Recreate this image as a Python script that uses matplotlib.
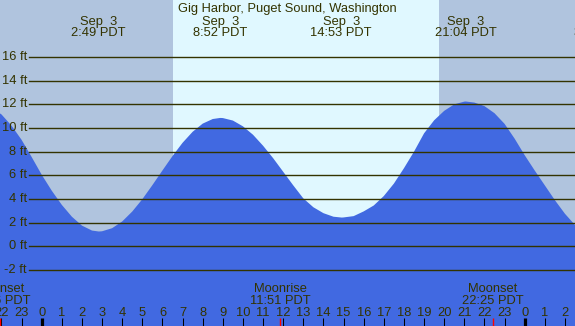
import matplotlib
matplotlib.use("Agg")
import matplotlib.pyplot as plt
import matplotlib.transforms as mtransforms

# tide height (ft), hours from midnight Sep 3
hours = [-3.1, -2.5, -2, -1.5, -1, -0.5, 0, 0.5, 1, 1.5, 2, 2.5, 2.84,
         3, 3.5, 4, 4.5, 5, 5.5, 6, 6.5, 7, 7.5, 8, 8.5, 8.87,
         9, 9.5, 10, 10.5, 11, 11.5, 12, 12.5, 13, 13.5, 14, 14.5, 14.91,
         15, 15.5, 16, 16.5, 17, 17.5, 18, 18.5, 19, 19.5, 20, 20.5, 21, 21.07,
         21.5, 22, 22.5, 23, 23.5, 24, 24.5, 25, 25.5, 26, 26.5, 27]
heights = [11.9, 11.7, 11.15, 10.2, 9.0, 7.55, 6.05, 4.7, 3.5, 2.5, 1.75, 1.33, 1.25,
           1.27, 1.53, 2.1, 2.94, 3.98, 5.17, 6.41, 7.63, 8.75, 9.68, 10.37, 10.76, 10.85,
           10.84, 10.63, 10.14, 9.43, 8.5, 7.45, 6.3, 5.15, 4.05, 3.3, 2.8, 2.5, 2.43,
           2.44, 2.55, 2.95, 3.45, 4.25, 5.3, 6.6, 8.0, 9.55, 10.65, 11.45, 12.0, 12.23, 12.24,
           12.15, 11.85, 11.25, 10.35, 9.1, 7.7, 6.4, 5.15, 3.9, 2.75, 1.8, 1.2]

tide_times = [2.82, 8.87, 14.88, 21.07, 27.8]
tide_dates = ["Sep  3", "Sep  3", "Sep  3", "Sep  3", "Sep  4"]
tide_clock = ["2:49 PDT", "8:52 PDT", "14:53 PDT", "21:04 PDT", "3:48 PDT"]

moon_times = [-2.07, 11.85, 22.417]
moon_names = ["Moonset", "Moonrise", "Moonset"]
moon_clock = ["21:56 PDT", "11:51 PDT", "22:25 PDT"]

sunrise = 6.52
sunset = 19.74
levels = [-2, 0, 2, 4, 6, 8, 10, 12, 14, 16]
hour_ticks = list(range(-2, 27))

W, H = 575, 326
txt = "#333300"
plt.rcParams["font.family"] = ["Liberation Sans", "DejaVu Sans"]
fs = 9.3

fig = plt.figure(figsize=(W / 100, H / 100), dpi=100)
fig.patch.set_facecolor("#b0c4de")
ax = fig.add_axes([0, 0, 1, 1])
ax.axis("off")
ax.set_xlim(-41.7 / 20.125, (W - 41.7) / 20.125)
y_top = (246.3 - 0) / 11.83
y_bot = (246.3 - H) / 11.83
ax.set_ylim(y_bot, y_top)

ax.axvspan(sunrise, sunset, color="#e0f8ff", lw=0, zorder=0)
ax.fill_between(hours, heights, y_bot - 1, color="#4169e1", lw=0, zorder=1)

def py(p):
    # pixel row from top -> axes fraction
    return 1 - p / H

for lv in levels:
    ax.axhline(lv, xmin=29 / W, xmax=1, color=txt, lw=1.0, zorder=2)
    ax.text(27 / W, lv, f"{lv} ft", transform=ax.get_yaxis_transform(),
            ha="right", va="center", fontsize=fs, color=txt, zorder=3)

trans = mtransforms.blended_transform_factory(ax.transData, ax.transAxes)

ax.text(0.5, py(12.3), "Gig Harbor, Puget Sound, Washington", transform=ax.transAxes,
        ha="center", va="baseline", fontsize=fs, color=txt)

for t, d, c in zip(tide_times, tide_dates, tide_clock):
    ax.text(t, py(24.8), d, transform=trans, ha="center", va="baseline", fontsize=fs, color=txt)
    ax.text(t, py(36), c, transform=trans, ha="center", va="baseline", fontsize=fs, color=txt)

for t, n, c in zip(moon_times, moon_names, moon_clock):
    ax.text(t, py(291.7), n, transform=trans, ha="center", va="baseline", fontsize=fs, color=txt)
    ax.text(t, py(304), c, transform=trans, ha="center", va="baseline", fontsize=fs, color=txt)
    ax.vlines(t, 0, py(318), transform=trans, color="red", lw=1.0, zorder=4)

for h in hour_ticks:
    ax.text(h, py(315.7), str(h % 24), transform=trans, ha="center", va="baseline",
            fontsize=fs, color=txt)
    lw = 2.3 if h % 24 == 0 else 0.75
    ax.vlines(h, 0, py(318), transform=trans, color="black", lw=lw, zorder=3)

fig.savefig("out.png", dpi=100, facecolor=fig.get_facecolor())
